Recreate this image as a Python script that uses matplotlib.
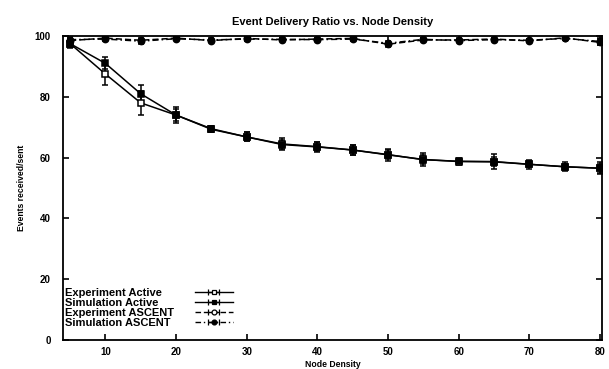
import numpy as np
from matplotlib import pyplot as plt

plt.rcParams.update({
    "font.family": ["Liberation Sans", "DejaVu Sans"],
    "font.weight": "bold",
    "font.size": 7,
    "axes.linewidth": 1.3,
})

density = [5, 10, 15, 20, 25, 30, 35, 40, 45, 50, 55, 60, 65, 70, 75, 80]

exp_active = [97.5, 87.5, 78.0, 74.0, 69.5, 66.8, 64.5, 63.6, 62.5, 60.9, 59.4, 58.7, 58.6, 57.8, 57.0, 56.5]
exp_active_err = [1.5, 3.5, 4.0, 2.5, 1.0, 1.5, 2.0, 1.5, 1.5, 2.0, 2.0, 1.0, 2.5, 1.5, 1.5, 2.0]
sim_active = [97.5, 91.0, 81.0, 74.0, 69.3, 66.8, 64.3, 63.5, 62.5, 61.0, 59.3, 58.8, 58.7, 57.8, 57.0, 56.5]
sim_active_err = [1.0, 2.0, 3.0, 2.0, 1.0, 1.5, 1.5, 1.5, 1.5, 1.5, 1.5, 1.0, 1.5, 1.0, 1.0, 1.5]

exp_ascent = [98.5, 99.3, 98.6, 99.3, 98.5, 99.2, 98.7, 99.0, 99.2, 97.3, 98.7, 98.7, 99.0, 98.4, 99.4, 97.9]
exp_ascent_err = [1.0, 0.5, 0.8, 0.5, 0.5, 0.5, 0.5, 0.5, 0.5, 0.8, 0.5, 0.5, 0.5, 0.5, 0.5, 1.0]
sim_ascent = [98.8, 99.0, 98.3, 99.1, 98.7, 99.0, 98.9, 98.8, 99.0, 97.6, 98.9, 98.5, 98.8, 98.6, 99.2, 98.2]
sim_ascent_err = [0.8, 0.5, 0.8, 0.5, 0.5, 0.5, 0.5, 0.5, 0.5, 0.8, 0.5, 0.5, 0.5, 0.5, 0.5, 1.0]

labels = ["Experiment Active", "Simulation Active", "Experiment ASCENT", "Simulation ASCENT"]

fig = plt.figure(figsize=(6.09, 3.69), dpi=100)
ax = fig.add_axes([63 / 609, 29 / 369, 539 / 609, 304 / 369])

series = [
    (exp_active, exp_active_err, "-", "s", "white"),
    (sim_active, sim_active_err, "-", "s", "black"),
    (exp_ascent, exp_ascent_err, (0, (4, 2)), "o", "white"),
    (sim_ascent, sim_ascent_err, (0, (4, 2, 1, 2)), "o", "black"),
]

proxies = []
for (vals, err, ls, mk, fc) in series:
    c = ax.errorbar(density, vals, yerr=err, color="black", lw=1.1, ls=ls,
                    marker=mk, ms=4.5, mfc=fc, mec="black", mew=1.1,
                    capsize=2.2, elinewidth=1.1, capthick=1.1)
    p = ax.errorbar([np.nan], [np.nan], xerr=1, color="black", lw=1.0, ls=ls,
                    marker=mk, ms=3.5, mfc=fc, mec="black", mew=0.9,
                    capsize=2.2, elinewidth=1.0, capthick=1.0)
    p[2][0].set_linestyle(ls)
    proxies.append(p)

ax.set_xlim(4, 80.3)
ax.set_ylim(0, 100)
ax.set_xticks(range(10, 81, 10))
ax.set_yticks(range(0, 101, 20))
ax.tick_params(direction="in", length=4, width=1.2, top=True, right=True, labelsize=7)
ax.tick_params(axis="x", pad=5)
ax.tick_params(axis="y", pad=9)

ax.set_title("Event Delivery Ratio vs. Node Density", fontsize=8, fontweight="bold", pad=8)
ax.set_xlabel("Node Density", fontsize=6.2, fontweight="bold", labelpad=2)
ax.set_ylabel("Events received/sent", fontsize=6.2, fontweight="bold", labelpad=6)

fs = 8
leg = ax.legend(proxies, labels, loc="lower left", bbox_to_anchor=(0.003, 0.04),
                frameon=False, markerfirst=False, handlelength=3.4,
                handletextpad=1.9, labelspacing=0.0, borderpad=0, borderaxespad=0,
                fontsize=fs)

# left-align the labels and line up the samples like gnuplot does
fig.canvas.draw()
renderer = fig.canvas.get_renderer()
pt = fig.dpi / 72
widths = [t.get_window_extent(renderer).width / pt for t in leg.get_texts()]
rows = leg._legend_handle_box.get_children()[0].get_children()
for row, w in zip(rows, widths):
    row.sep = 1.9 * fs + (max(widths) - w)

fig.savefig("out.png", dpi=100)
